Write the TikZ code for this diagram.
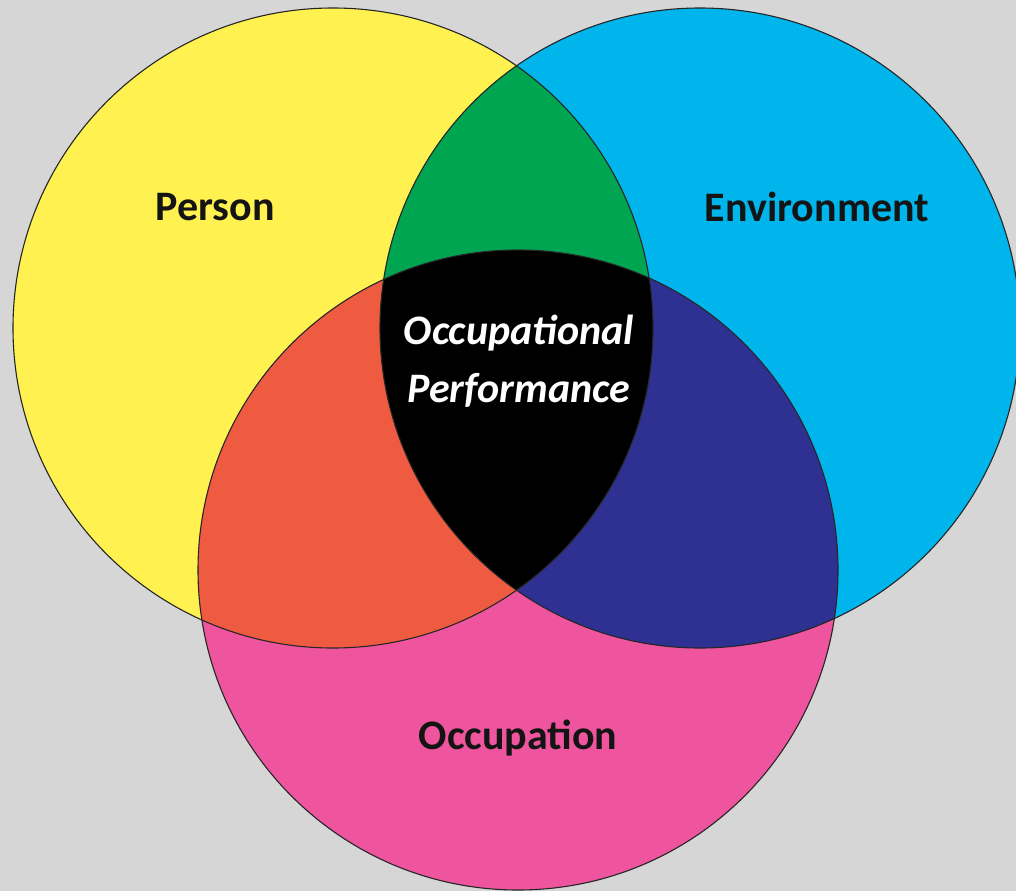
\documentclass[tikz,border=0pt]{standalone}
\usepackage{fontspec}
\setmainfont{Carlito}
\definecolor{bggray}{HTML}{D6D6D6}
\definecolor{cyellow}{HTML}{FFF250}
\definecolor{cblue}{HTML}{00B5EC}
\definecolor{cpink}{HTML}{EF559E}
\definecolor{cgreen}{HTML}{00A551}
\definecolor{cred}{HTML}{EF5B41}
\definecolor{cnavy}{HTML}{2E3192}
\definecolor{txt}{HTML}{141414}
\tikzset{
  ring/.style={draw=black!85, line width=1.1pt},
  lbl/.style={font=\fontsize{42}{50}\selectfont\bfseries, text=txt, inner sep=0pt},
  centerlbl/.style={font=\fontsize{42}{58}\selectfont\bfseries\itshape, text=white, align=center, inner sep=0pt}
}
\begin{document}
\begin{tikzpicture}[x=1pt,y=-1pt]
\fill[bggray] (0,0) rectangle (1016,891);
\useasboundingbox (0,0) rectangle (1016,891);
\def\R{320}
\coordinate (P) at (333,328);
\coordinate (E) at (700,328);
\coordinate (O) at (518,570);
% base circles
\fill[cyellow] (P) circle[radius=\R];
\fill[cblue] (E) circle[radius=\R];
\fill[cpink] (O) circle[radius=\R];
% pairwise intersections
\begin{scope}
  \clip (P) circle[radius=\R];
  \fill[cgreen] (E) circle[radius=\R];
  \fill[cred] (O) circle[radius=\R];
\end{scope}
\begin{scope}
  \clip (E) circle[radius=\R];
  \fill[cnavy] (O) circle[radius=\R];
\end{scope}
% triple intersection
\begin{scope}
  \clip (P) circle[radius=\R];
  \clip (E) circle[radius=\R];
  \fill[black] (O) circle[radius=\R];
\end{scope}
% outlines
\draw[ring] (P) circle[radius=\R];
\draw[ring] (E) circle[radius=\R];
\draw[ring] (O) circle[radius=\R];
% labels
\node[lbl] (person) at (215,207) {Person};
\node[lbl] (env) at (817,207) {Environment};
\node[lbl] (occ) at (518,738) {Occupation};
\node[centerlbl] (perf) at (519,361) {Occupational\\Performance};
\end{tikzpicture}
\end{document}
